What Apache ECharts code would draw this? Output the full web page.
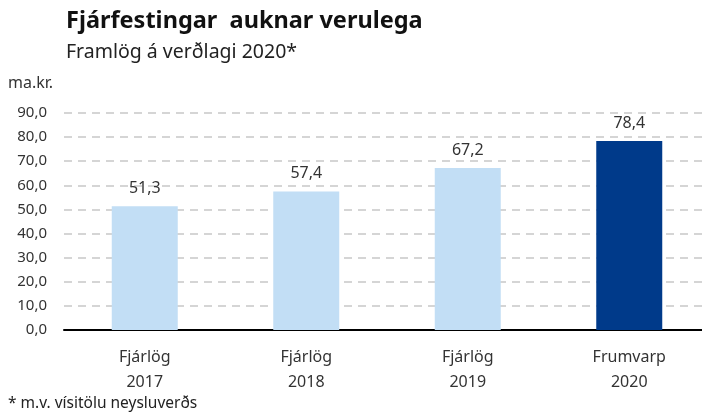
<!DOCTYPE html>
<html><head><meta charset="utf-8">
<script src="https://cdn.jsdelivr.net/npm/echarts@6/dist/echarts.min.js"></script>
<style>html,body{margin:0;padding:0;background:#fff;overflow:hidden;width:702px;height:414px}#c{width:710px;height:414px}</style>
</head><body><div id="c"></div>
<script>
const categories = ['Fjárlög\n2017', 'Fjárlög\n2018', 'Fjárlög\n2019', 'Frumvarp\n2020'];
const values = [51.3, 57.4, 67.2, 78.4];
const barColors = ['#C2DEF5', '#C2DEF5', '#C2DEF5', '#003A8A'];
const yTicks = [0, 10, 20, 30, 40, 50, 60, 70, 80, 90];

const font = '"Noto Sans", "Open Sans", sans-serif';
const fmt = v => v.toFixed(1).replace('.', ',');
const chart = echarts.init(document.getElementById('c'));
chart.setOption({
  animation: false,
  textStyle: { fontFamily: font },
  graphic: [
    { type: 'text', left: 66, top: 9, style: { text: 'Fjárfestingar  auknar verulega', font: 'bold 23.5px ' + font, fill: '#111' } },
    { type: 'text', left: 66, top: 42, style: { text: 'Framlög á verðlagi 2020*', font: '19.5px ' + font, fill: '#222' } },
    { type: 'text', left: 8, top: 75, style: { text: 'ma.kr.', font: '16px ' + font, fill: '#333' } },
    { type: 'text', left: 8, top: 396, style: { text: '* m.v. vísitölu neysluverðs', font: '15.5px ' + font, fill: '#222' } }
  ],
  grid: { left: 64, right: 0, top: 113, bottom: 84, containLabel: false },
  xAxis: {
    type: 'category', data: categories,
    axisLine: { lineStyle: { color: '#000', width: 2 } },
    axisTick: { show: false },
    axisLabel: { color: '#333', fontSize: 16, lineHeight: 25, margin: 15, fontFamily: font }
  },
  yAxis: {
    type: 'value', min: yTicks[0], max: yTicks[yTicks.length - 1], interval: 10,
    axisLine: { show: false }, axisTick: { show: false },
    axisLabel: { color: '#333', fontSize: 15, margin: 17, formatter: v => fmt(v), fontFamily: font },
    splitLine: { lineStyle: { color: '#c8c8c8', type: [8, 6], width: 1.5 } }
  },
  series: [{
    type: 'bar', barWidth: 66,
    data: values.map((v, i) => ({ value: v, itemStyle: { color: barColors[i] } })),
    label: { show: true, position: 'top', distance: 10, color: '#333', fontSize: 16, formatter: p => fmt(p.value), fontFamily: font }
  }]
});
</script></body></html>
